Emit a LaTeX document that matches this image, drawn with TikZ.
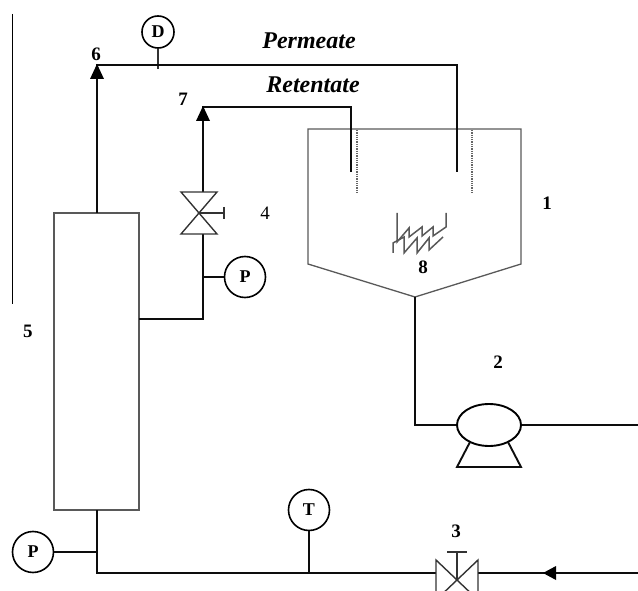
\documentclass[tikz,border=0pt]{standalone}
\usepackage{fontspec}
\setmainfont{Liberation Serif}
\usetikzlibrary{calc,shapes.geometric}
\tikzset{
  pipe/.style={line width=2.1pt,black!95},
  thin pipe/.style={line width=1.4pt,black!80},
  vessel/.style={line width=1.3pt,black!65},
  gauge/.style={draw,circle,line width=1.6pt,minimum size=41pt,inner sep=0pt,font=\fontsize{18}{18}\selectfont\bfseries},
  tag/.style={inner sep=0pt,font=\fontsize{19}{19}\selectfont\bfseries},
  stream/.style={inner sep=0pt,font=\fontsize{24}{24}\selectfont\bfseries\itshape},
  tip/.style={fill=black,draw=none}
}
\begin{document}
\begin{tikzpicture}[x=1pt,y=-1pt]
    \useasboundingbox (0,0) rectangle (638,591);
    \clip (0,0) rectangle (638,591); % Cuts the lower valve...
    \coordinate (ColTopLeft)  at (54,213);
    \coordinate (ColBotRight) at (139,510);
    \coordinate (ColTop)      at (97,213);
    \coordinate (ColBot)      at (97,510);
    \coordinate (Six)         at (97,65);
    \coordinate (Seven)       at (203,107);
    \coordinate (ColSide)     at (139,319);
    \coordinate (ValveTop)    at (203,192);
    \coordinate (ValveBot)    at (203,234);
    \coordinate (PermBend)    at (457,65);
    \coordinate (PermEnd)     at (457,172);
    \coordinate (RetBend)     at (351,107);
    \coordinate (RetEnd)      at (351,172);
    \coordinate (TankApex)    at (415,297);
    \coordinate (PumpIn)      at (415,425);
    \coordinate (FeedOut)     at (638,425);
    \coordinate (Corner)      at (97,573);
    \coordinate (FeedIn)      at (638,573);

    \draw[draw=black,line width=1pt] (12.5,14) -- (12.5,304);

    % column and tank
    \draw[vessel] (ColTopLeft) rectangle (ColBotRight);
    \draw[vessel] (308,129) -- (521,129) -- (521,264) -- (TankApex) -- (308,264) -- cycle;
    \foreach \x in {357,472}{
      \draw[line width=1.3pt,black!60,densely dotted] (\x,130) -- (\x,193);
    }
    % heater
    \draw[vessel,line width=1.5pt] (397,213) -- (397,242) -- (409,228) -- (409,237) -- (422,227) -- (422,236) -- (433,227) -- (433,236) -- (446,227) -- (446,213);
    \draw[vessel,line width=1.5pt] (393,253) -- (393,243) -- (404,237) -- (404,253) -- (417,238) -- (417,253) -- (429,238) -- (429,250) -- (443,237);

    % gauges
    \node[gauge,minimum size=32pt] (GaugeD) at (158,32) {D};
    \node[gauge] (GaugeP) at (245,277) {P};
    \node[gauge] (GaugeL) at (33,552) {P};
    \node[gauge] (GaugeT) at (309,510) {T};
    \draw[thin pipe] (GaugeD) -- (158,69);
    \draw[pipe] (GaugeP) -- (GaugeP -| ValveBot);
    \draw[pipe] (GaugeL) -- (GaugeL -| Corner);
    \draw[pipe] (GaugeT) -- (GaugeT |- Corner);

    % pipes
    \draw[pipe] (ColTop) -- (Six) -- (PermBend) -- (PermEnd);
    \draw[pipe] (ColSide) -| (ValveBot);
    \draw[pipe] (ValveTop) -- (Seven) -- (RetBend) -- (RetEnd);
    \draw[pipe] (TankApex) -- (PumpIn) -- (457,425);
    \draw[pipe] (521,425) -- (FeedOut);
    \draw[pipe] (ColBot) -- (Corner) -- (436,573);
    \draw[pipe] (478,573) -- (FeedIn);

    % arrow heads
    \foreach \p in {Six,Seven}{
      \fill[tip] (\p) ++(0,-1) -- ++(7,15) -- ++(-14,0) -- cycle;
    }
    \fill[tip] (543,573) -- ++(13,-7) -- ++(0,14) -- cycle;

    % valves
    \draw[thin pipe] (181,192) -- (217,192) -- (181,234) -- (217,234) -- cycle;
    \draw[thin pipe] (199,213) -- (224,213) (224,207) -- (224,219);
    \draw[thin pipe] (436,560) -- (436,600) -- (478,560) -- (478,600) -- cycle;
    \draw[thin pipe] (457,580) -- (457,552) (447,552) -- (467,552);

    % pump
    \node[draw,ellipse,line width=1.9pt,minimum width=64pt,minimum height=42pt,inner sep=0pt,fill=white] (Pump) at (489,425) {};
    \draw[pipe,line width=1.9pt] (470,442) -- (457,467) -- (521,467) -- (508,442);

    % labels
    \node[stream] (LabPerm) at (309,41) {Permeate};
    \node[stream] (LabRet)  at (313,85) {Retentate};
    \node[tag] (LabOne)   at (547,203) {1};
    \node[tag] (LabTwo)   at (498,362) {2};
    \node[tag] (LabThree) at (456,531) {3};
    \node[tag,font=\fontsize{19}{19}\selectfont] (LabFour) at (265,213) {4};
    \node[tag] (LabFive)  at (28,331) {5};
    \node[tag] (LabSix)   at (96,54) {6};
    \node[tag] (LabSeven) at (183,99) {7};
    \node[tag] (LabEight) at (423,267) {8};
\end{tikzpicture}
\end{document}
